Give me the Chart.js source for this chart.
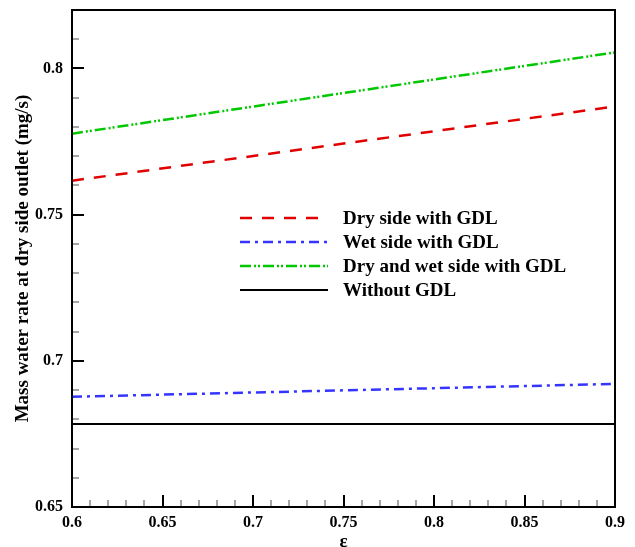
<!DOCTYPE html>
<html>
<head>
<meta charset="utf-8">
<script src="https://cdn.jsdelivr.net/npm/chart.js@4/dist/chart.umd.min.js"></script>
<style>
  html, body { margin: 0; padding: 0; background: #fff; }
  #wrap { width: 635px; height: 547px; }
</style>
</head>
<body>
<div id="wrap"><canvas id="myChart" width="635" height="547"></canvas></div>
<script>
/*
-------------------------------------
/// data
-------------------------------------
*/
const epsilon = [0.6, 0.75, 0.9];
const drySide = [0.7616, 0.7743, 0.7870];
const wetSide = [0.6877, 0.6899, 0.6921];
const dryWetSide = [0.7777, 0.7916, 0.8055];
const withoutGdl = [0.6784, 0.6784, 0.6784];

const xTicks = [0.6, 0.65, 0.7, 0.75, 0.8, 0.85, 0.9];
const yTicks = [0.65, 0.7, 0.75, 0.8];

const seriesNames = ['Dry side with GDL', 'Wet side with GDL', 'Dry and wet side with GDL', 'Without GDL'];

const FONT = '"Liberation Serif", "Times New Roman", serif';

function pts(ys) {
  return epsilon.map((x, i) => ({x: x, y: ys[i]}));
}

/*
-------------------------------------
/// plugins: frame, inner ticks, legend
-------------------------------------
*/
const frameTicks = {
  id: 'frameTicks',
  afterDatasetsDraw(chart) {
    const ctx = chart.ctx;
    const a = chart.chartArea;
    const xs = chart.scales.x, ys = chart.scales.y;
    ctx.save();

    // minor ticks every 0.01
    ctx.strokeStyle = '#888';
    ctx.lineWidth = 1.5;
    for (let i = 60; i <= 90; i++) {
      if (i % 5 === 0) continue;
      const px = Math.round(xs.getPixelForValue(i / 100));
      ctx.beginPath(); ctx.moveTo(px, a.bottom); ctx.lineTo(px, a.bottom - 7); ctx.stroke();
    }
    for (let i = 65; i <= 82; i++) {
      if (i % 5 === 0) continue;
      const py = Math.round(ys.getPixelForValue(i / 100));
      ctx.beginPath(); ctx.moveTo(a.left, py); ctx.lineTo(a.left + 7, py); ctx.stroke();
    }

    // major ticks
    ctx.strokeStyle = '#000';
    ctx.lineWidth = 2;
    xTicks.forEach(v => {
      const px = Math.round(xs.getPixelForValue(v));
      ctx.beginPath(); ctx.moveTo(px, a.bottom); ctx.lineTo(px, a.bottom - 12); ctx.stroke();
    });
    yTicks.forEach(v => {
      const py = Math.round(ys.getPixelForValue(v));
      ctx.beginPath(); ctx.moveTo(a.left, py); ctx.lineTo(a.left + 12, py); ctx.stroke();
    });

    // frame
    ctx.lineWidth = 2;
    ctx.strokeRect(a.left, a.top, a.right - a.left, a.bottom - a.top);
    ctx.restore();
  }
};

const insideLegend = {
  id: 'insideLegend',
  afterDatasetsDraw(chart) {
    const ctx = chart.ctx;
    ctx.save();
    ctx.font = 'bold 19px ' + FONT;
    ctx.textBaseline = 'middle';
    ctx.fillStyle = '#000';
    chart.data.datasets.forEach((ds, i) => {
      const y = 218 + i * 24;
      ctx.strokeStyle = ds.borderColor;
      ctx.lineWidth = ds.borderWidth;
      ctx.setLineDash(ds.borderDash || []);
      ctx.beginPath(); ctx.moveTo(240, y); ctx.lineTo(328, y); ctx.stroke();
      ctx.setLineDash([]);
      ctx.fillText(ds.label, 343, y + 1);
    });
    ctx.restore();
  }
};

/*
-------------------------------------
/// chart
-------------------------------------
*/
var ctx = document.getElementById('myChart').getContext('2d');
var myChart = new Chart(ctx, {
  type: 'line',
  data: {
    datasets: [
      { label: seriesNames[0], data: pts(drySide), borderColor: '#e00000', borderWidth: 2.5, borderDash: [12, 10] },
      { label: seriesNames[1], data: pts(wetSide), borderColor: '#3535ff', borderWidth: 2.5, borderDash: [10, 5, 3, 5] },
      { label: seriesNames[2], data: pts(dryWetSide), borderColor: '#00c800', borderWidth: 2.5, borderDash: [11, 3, 2, 2, 2, 3] },
      { label: seriesNames[3], data: pts(withoutGdl), borderColor: '#000000', borderWidth: 2 }
    ]
  },
  options: {
    responsive: false,
    animation: false,
    events: [],
    elements: { point: { radius: 0 }, line: { tension: 0 } },
    layout: { padding: { top: 10, right: 20, left: 0, bottom: 0 } },
    plugins: { legend: { display: false }, tooltip: { enabled: false } },
    scales: {
      x: {
        type: 'linear',
        min: 0.6,
        max: 0.9,
        afterFit: s => { s.height = 40; s.paddingLeft = 0; s.paddingRight = 0; },
        grid: { display: false, drawTicks: false, tickLength: 0 },
        border: { display: false },
        afterBuildTicks: s => { s.ticks = xTicks.map(v => ({value: v})); },
        ticks: {
          padding: 6,
          maxRotation: 0,
          autoSkip: false,
          color: '#000',
          font: { family: FONT, size: 16, weight: 'bold' },
          callback: v => String(+v.toFixed(2))
        },
        title: {
          display: true,
          text: 'ε',
          color: '#000',
          padding: { top: 0, bottom: 0 },
          font: { family: FONT, size: 19, weight: 'bold', lineHeight: 0.5 }
        }
      },
      y: {
        type: 'linear',
        min: 0.65,
        max: 0.82,
        afterFit: s => { s.width = 72; s.paddingTop = 0; s.paddingBottom = 0; },
        grid: { display: false, drawTicks: false, tickLength: 0 },
        border: { display: false },
        afterBuildTicks: s => { s.ticks = yTicks.map(v => ({value: v})); },
        ticks: {
          padding: 9,
          autoSkip: false,
          color: '#000',
          font: { family: FONT, size: 16, weight: 'bold' },
          callback: v => String(+v.toFixed(2))
        },
        title: {
          display: true,
          text: 'Mass water rate at dry side outlet (mg/s)',
          color: '#000',
          padding: { top: 12, bottom: 0 },
          font: { family: FONT, size: 19, weight: 'bold', lineHeight: 1.2 }
        }
      }
    }
  },
  plugins: [frameTicks, insideLegend]
});
</script>
</body>
</html>
